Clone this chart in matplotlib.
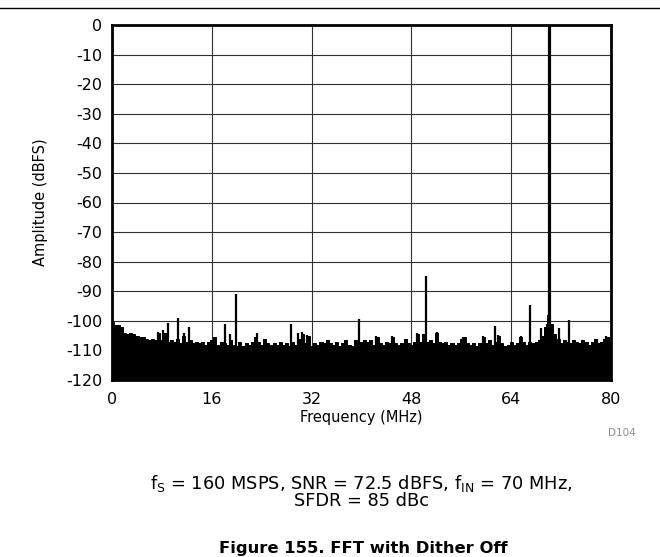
import numpy as np
import matplotlib
matplotlib.use("Agg")
import matplotlib.pyplot as plt
from matplotlib.lines import Line2D

plt.rcParams['font.family'] = ['DejaVu Sans']
plt.rcParams['axes.unicode_minus'] = False
plt.rcParams['mathtext.fontset'] = 'dejavusans'

# ---------------- data ----------------
floor_step = 0.5
floor_level = [
    -100.5, -101.5, -101.5, -102.0, -104.0, -104.5, -104.0, -104.5, -105.0, -105.5,
    -105.5, -106.0, -106.5, -106.0, -106.5, -104.0, -106.5, -104.0, -107.0, -106.5,
    -107.0, -106.0, -107.5, -105.0, -107.0, -106.5, -107.5, -107.0, -107.5, -107.0,
    -108.0, -107.0, -106.5, -105.5, -108.0, -107.0, -107.5, -108.0, -106.5, -108.0,
    -108.5, -107.0, -108.5, -107.5, -108.0, -107.0, -105.5, -107.0, -108.0, -106.0,
    -107.5, -108.0, -107.5, -108.0, -107.0, -108.0, -107.5, -108.5, -107.0, -108.0,
    -106.0, -104.5, -107.5, -105.0, -108.5, -107.5, -108.0, -107.0, -107.5, -106.5,
    -107.5, -108.0, -107.0, -108.5, -107.5, -106.5, -108.0, -108.5, -106.5, -107.5,
    -107.0, -106.5, -107.0, -106.5, -108.0, -105.5, -107.5, -108.0, -107.0, -107.5,
    -105.5, -107.5, -108.0, -107.5, -106.0, -107.5, -108.0, -107.0, -104.5, -107.0,
    -104.5, -107.0, -106.5, -107.5, -104.0, -107.0, -107.5, -107.0, -108.0, -107.5,
    -108.0, -107.5, -106.0, -105.5, -107.5, -108.0, -107.5, -108.5, -107.5, -105.5,
    -107.5, -106.5, -108.0, -107.0, -105.0, -107.5, -108.5, -108.0, -107.0, -108.0,
    -107.5, -105.5, -107.0, -108.0, -107.0, -107.5, -107.0, -106.5, -105.0, -102.0,
    -96.0, -101.0, -104.5, -106.0, -107.5, -106.5, -107.0, -107.5, -106.5, -107.0,
    -107.5, -106.5, -107.0, -108.0, -107.0, -106.0, -107.5, -107.0, -106.0, -105.5,
    -107.0,
]
floor_freq = np.arange(len(floor_level)) * floor_step

skirt_freq = [69.6, 69.8, 69.9, 70.1, 70.2, 70.4]
skirt_level = [-101.0, -98.0, -94.0, -94.0, -98.0, -101.0]

spur_freq = [0.0, 7.4, 8.2, 9.0, 10.6, 11.6, 12.4, 18.1, 18.9, 19.8, 23.2, 28.7,
             29.8, 30.5, 31.3, 39.6, 42.3, 44.9, 48.9, 50.0, 50.4, 52.1, 56.3,
             59.4, 61.4, 61.9, 65.5, 67.0, 68.8, 71.7, 73.2, 77.7, 79.2]
spur_level = [-99.0, -103.7, -103.0, -100.7, -99.2, -104.0, -102.0, -101.2, -104.5,
              -91.0, -104.0, -101.0, -104.0, -103.7, -104.8, -99.5, -105.0, -105.0,
              -104.0, -104.3, -85.0, -103.8, -105.5, -105.2, -101.8, -104.8, -105.2,
              -94.6, -102.5, -102.5, -99.8, -106.0, -105.2]

carrier_freq = 70.0
carrier_level = 0.0

y_ticks = list(range(0, -130, -10))
x_ticks = [0, 16, 32, 48, 64, 80]

# ---------------- figure ----------------
fig = plt.figure(figsize=(6.6, 5.57), dpi=100)
ax = fig.add_axes([112/660, 1-380/557, 499/660, 355/557])

f_all = np.concatenate([floor_freq, skirt_freq])
l_all = np.concatenate([floor_level, skirt_level])
order = np.argsort(f_all)
f_all, l_all = f_all[order], l_all[order]

ax.fill_between(f_all, -120, l_all, step='mid', color='black', lw=0, zorder=3)
ax.plot(f_all, l_all, drawstyle='steps-mid', color='black', lw=0.7, zorder=3)
ax.vlines(spur_freq, -120, spur_level, color='black', lw=1.6, zorder=3)
ax.vlines([carrier_freq], -120, [carrier_level], color='black', lw=2.3, zorder=3)

ax.set_xlim(0, 80)
ax.set_ylim(-120, 0)
ax.set_xticks(x_ticks)
ax.set_xticklabels([str(t) for t in x_ticks])
ax.set_yticks(y_ticks)
ax.set_yticklabels([str(t) for t in y_ticks])
ax.tick_params(axis='both', length=0, labelsize=11.5, colors='black')
ax.tick_params(axis='y', pad=7)
ax.tick_params(axis='x', pad=9)
ax.grid(True, color='#303030', lw=0.8, zorder=1)
ax.set_axisbelow(True)
for s in ax.spines.values():
    s.set_linewidth(2.0)
    s.set_color('black')
    s.set_zorder(5)

ax.set_xlabel('Frequency (MHz)', fontsize=10.5, labelpad=2)
ax.set_ylabel('Amplitude (dBFS)', fontsize=10.5, labelpad=13)

fig.text(622/660, 1-433/557, 'D104', fontsize=7.5, color='#8c8c8c',
         ha='center', va='center')
fig.text(361/660, 1-483/557,
         r'f$_\mathregular{S}$ = 160 MSPS, SNR = 72.5 dBFS, f$_\mathregular{IN}$ = 70 MHz,',
         fontsize=12.8, ha='center', va='center')
fig.text(361/660, 1-501/557, 'SFDR = 85 dBc', fontsize=12.8, ha='center', va='center')
fig.text(363/660, 1-548/557, 'Figure 155. FFT with Dither Off', fontsize=11.8,
         fontweight='bold', ha='center', va='center')

fig.add_artist(Line2D([0, 1], [1-8/557, 1-8/557], transform=fig.transFigure,
                      color='black', lw=1.0))

fig.savefig('out.png', dpi=100)
